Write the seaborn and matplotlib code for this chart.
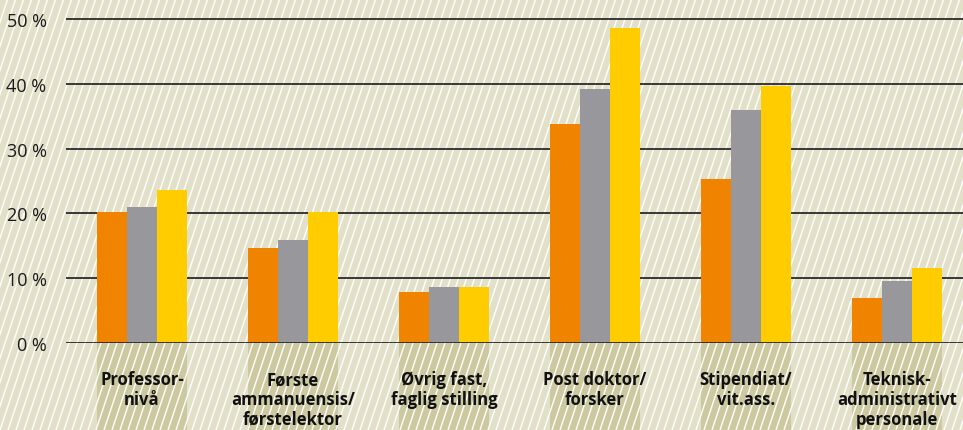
import numpy as np
import pandas as pd
import matplotlib
matplotlib.use('Agg')
import matplotlib.pyplot as plt
from matplotlib.patches import Rectangle
import seaborn as sns

# data (percent)
categories = ['Professor-\nnivå', 'Første\nammanuensis/\nførstelektor', 'Øvrig fast,\nfaglig stilling',
              'Post doktor/\nforsker', 'Stipendiat/\nvit.ass.', 'Teknisk-\nadministrativt\npersonale']
series_names = ['Serie 1', 'Serie 2', 'Serie 3']
serie1 = [20.2, 14.7, 7.8, 33.8, 25.3, 6.9]
serie2 = [21.0, 15.9, 8.6, 39.2, 36.0, 9.5]
serie3 = [23.6, 20.2, 8.6, 48.6, 39.7, 11.6]
yticks = [0, 10, 20, 30, 40, 50]

colors = ['#f08300', '#98979c', '#ffcc00']
bg = '#e2e0c8'
boxcol = '#ccc8a0'

df = pd.DataFrame({
    'kategori': categories * 3,
    'serie': [s for s in series_names for _ in categories],
    'andel': serie1 + serie2 + serie3,
})

sns.set_theme(style='white')
plt.rcParams['font.family'] = ['Open Sans', 'DejaVu Sans']

W, H = 963, 431
fig = plt.figure(figsize=(W / 100, H / 100), dpi=100)
fig.patch.set_facecolor(bg)

# background layer (boxes + stripes), in pixel coords
bgax = fig.add_axes([0, 0, 1, 1], zorder=0)
bgax.set_xlim(0, W)
bgax.set_ylim(0, H)
bgax.axis('off')

# main axes: 0% at y=344 px, 10% = 64.8 px
y0 = 344
ppu = 6.48
ytop = 51
left = 66
ax = fig.add_axes([left / W, (H - y0) / H, (W - left) / W, ytop * ppu / H], zorder=1)
ax.patch.set_alpha(0)

sns.barplot(data=df, x='kategori', y='andel', hue='serie', palette=colors,
            width=0.6, saturation=1, legend=False, ax=ax, zorder=3,
            linewidth=0, edgecolor='none')

ax.set_xlim(-0.503, 5.437)
ax.set_ylim(0, ytop)
ax.set_yticks(yticks)
ax.set_yticklabels([f'{t} %' for t in yticks], fontsize=13, color='#1a1a1a')
ax.tick_params(axis='y', length=0, pad=14)
for t in yticks:
    ax.axhline(t, color='#2a2a2a', lw=1.3, zorder=1 if t > 0 else 4)
for s in ax.spines.values():
    s.set_visible(False)
ax.set_xticks([])
ax.set_xlabel('')
ax.set_ylabel('')

# label boxes below each group, drawn under the stripes
for i, lab in enumerate(categories):
    bgax.add_patch(Rectangle((i - 0.3, -14), 0.6, 14, facecolor=boxcol,
                             edgecolor='none', clip_on=False, zorder=1,
                             transform=ax.transData))
    ax.text(i, -4.2, lab, ha='center', va='top', fontsize=12, fontweight='bold',
            color='#111111', linespacing=1.13)

for x0 in np.arange(-200, W + 10, 8):
    bgax.plot([x0, x0 + H / 3.0], [0, H], color='white', lw=1.0,
              solid_capstyle='butt', zorder=2)

fig.savefig('out.png', dpi=100, facecolor=bg)
